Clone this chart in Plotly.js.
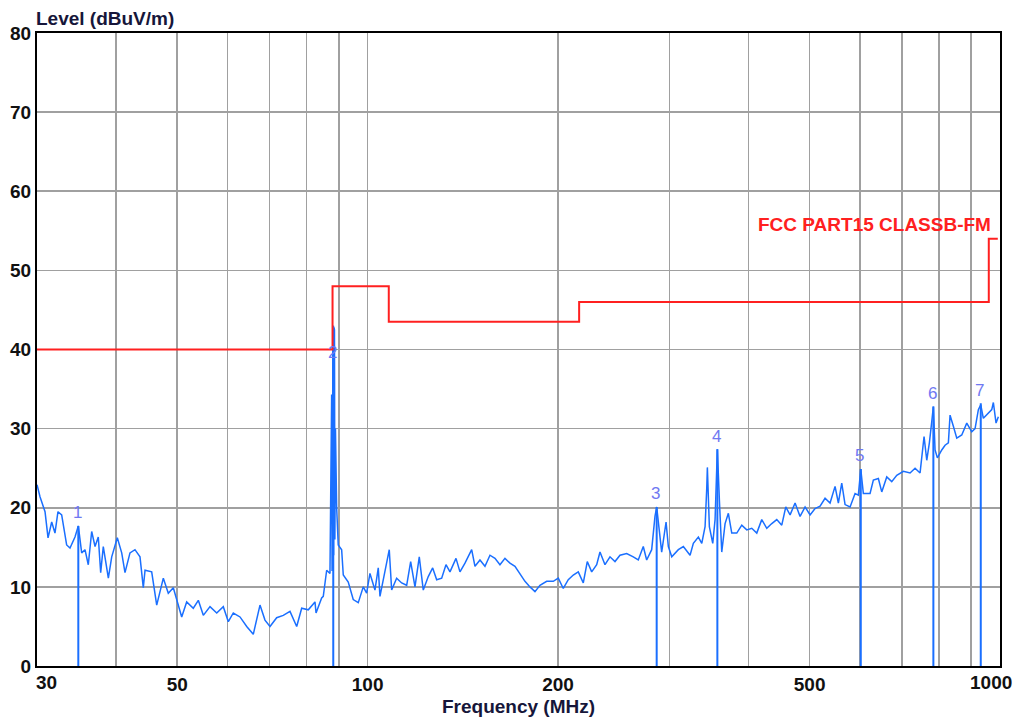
<!DOCTYPE html>
<html>
<head>
<meta charset="utf-8">
<script src="https://cdn.plot.ly/plotly-3.0.1.min.js"></script>
<style>html,body{margin:0;padding:0;background:#fff;}#chart{width:1019px;height:719px;}</style>
</head>
<body>
<div id="chart"></div>
<script>
// Measured spectrum (MHz, dBuV/m)
const freq = [30.0,30.33,30.89,31.23,31.65,32.03,32.38,32.82,33.42,33.83,34.45,34.87,35.30,35.73,36.16,36.61,37.06,37.50,37.83,38.19,38.90,39.38,40.19,40.84,41.33,42.09,42.86,43.65,44.18,44.46,45.55,46.39,47.52,48.39,49.28,50.19,50.81,51.74,53.00,53.98,54.97,56.33,57.72,59.12,60.21,61.31,62.83,64.38,65.94,67.57,68.81,70.08,71.80,73.55,75.37,77.23,78.65,80.56,82.55,82.87,84.58,85.08,86.14,87.18,87.72,87.85,87.98,88.1,88.23,88.35,88.45,88.62,88.75,88.94,89.33,89.85,90.97,91.51,93.18,94.89,96.64,98.41,99.64,100.84,102.70,103.94,104.59,106.51,108.19,109.14,111.14,113.19,115.27,116.96,118.81,120.68,122.45,124.70,126.72,128.58,130.94,133.01,134.96,137.95,139.96,142.54,146.05,147.82,150.53,153.30,156.12,158.99,161.90,164.88,167.91,170.99,174.14,177.34,180.59,183.91,187.29,191.92,196.59,200.20,203.88,207.62,211.44,215.32,219.28,222.50,226.10,230.25,233.04,237.32,241.68,246.12,250.64,256.83,263.07,267.90,272.83,276.23,281.30,284.70,286.47,288.14,291.73,296.42,298.91,302.64,309.99,315.69,323.49,327.39,333.42,337.59,341.67,343.77,344.52,347.04,351.36,354.33,357.30,359.91,363.06,367.47,371.91,376.53,383.46,390.51,397.68,405.0,412.44,420.0,427.74,435.6,443.6,451.74,458.37,465.63,474.18,482.88,491.76,500.79,509.97,519.36,528.9,538.59,548.49,555.12,562.02,568.83,579.3,589.92,597.06,602.31,608.01,623.04,630.57,642.15,650.13,662.07,674.25,686.64,703.35,720.72,733.98,747.48,752.1,758.43,765.93,773.22,780.0,784.56,789.45,796.08,808.92,818.7,828.6,833.73,843.81,854.34,870.03,886.02,902.31,913.2,924.24,932.34,941.19,952.92,970.44,976.11,985.71,994.02];
const level = [22.9,21.4,19.5,16.2,18.2,16.8,19.5,19.1,15.3,14.9,16.3,17.7,14.3,14.7,12.8,17.0,15.1,16.3,11.8,15.1,11.1,13.8,16.2,14.3,11.8,14.3,14.7,13.8,9.9,12.1,11.9,7.7,11.1,9.2,9.9,7.7,6.2,8.1,7.3,8.3,6.4,7.5,6.7,7.5,5.6,6.7,6.2,5.0,4.0,7.7,5.8,5.0,6.1,6.4,6.9,5.0,7.3,7.1,8.1,6.7,8.6,8.8,12.1,11.7,34.3,12.0,13.0,41.5,43.0,14.0,42.8,42.5,16.0,30.0,20.0,15.3,14.7,11.5,10.6,8.4,8.0,10.0,9.2,11.7,9.6,12.4,8.8,12.1,14.7,9.6,11.1,10.5,10.2,13.2,10.0,13.8,9.6,11.3,12.4,10.9,11.1,12.8,11.9,13.6,11.9,13.0,14.7,12.6,13.4,12.6,14.0,13.6,12.8,13.6,13.0,12.6,11.7,10.7,10.0,9.4,10.2,10.7,10.7,11.1,9.8,10.9,11.5,11.9,10.5,13.2,11.9,12.8,14.4,12.8,13.8,13.2,14.0,14.2,13.8,13.4,15.1,13.4,14.7,18.9,20.1,18.4,14.4,18.2,15.1,13.8,14.7,15.1,14.0,15.5,16.3,15.5,17.6,22.5,25.1,17.6,15.5,18.5,27.4,21.0,14.4,18.0,19.3,16.8,16.8,17.8,17.2,17.4,16.8,18.5,17.4,18.0,18.5,17.8,20.1,19.1,20.6,18.9,20.1,19.1,19.9,20.2,21.2,20.6,22.7,20.6,23.1,20.4,20.1,21.8,21.6,24.9,21.8,21.8,23.5,23.7,22.0,23.9,23.3,24.1,24.6,24.4,25.0,24.4,26.5,29.0,26.0,28.2,30.9,32.8,27.3,26.3,27.3,27.9,28.2,31.7,30.3,28.8,29.2,30.7,29.6,30.0,32.4,33.0,31.3,31.7,32.4,33.3,30.7,31.5];

// Limit line: FCC PART15 CLASSB-FM
const limitFreq  = [30, 88, 88, 108, 108, 216, 216, 960, 960, 992];
const limitLevel = [40, 40, 48, 48, 43.5, 43.5, 46, 46, 54, 54];
const limitName = 'FCC PART15 CLASSB-FM';

// Markers
const markerLabel = ['1','2','3','4','5','6','7'];
const markerFreq  = [34.87, 88.23, 286.47, 357.30, 602.31, 784.56, 932.34];
const markerLevel = [17.7, 43.0, 20.1, 27.4, 24.9, 32.8, 33.2];

// Axes
const gridFreq = [30,40,50,60,70,80,90,100,200,300,400,500,600,700,800,900,1000];
const xTickText = ['','','50','','','','','100','200','','','500','','','','',''];
const xEndLabels = ['30','1000'];
const xEndFreq = [30, 1000];
const yTicks = [0,10,20,30,40,50,60,70,80];
const xTitle = 'Frequency (MHz)';
const yTitle = 'Level (dBuV/m)';

const blue = '#1a6fff';
const FONT = 'Liberation Sans, Arial, sans-serif';

const mx = [], my = [];
for (let i = 0; i < markerFreq.length; i++) {
  mx.push(markerFreq[i], markerFreq[i], null);
  my.push(0, markerLevel[i], null);
}

const traces = [
  {x: freq, y: level, type: 'scatter', mode: 'lines', line: {color: blue, width: 1.5}, hoverinfo: 'skip'},
  {x: mx, y: my, type: 'scatter', mode: 'lines', line: {color: blue, width: 2}, hoverinfo: 'skip'},
  {x: limitFreq, y: limitLevel, type: 'scatter', mode: 'lines', line: {color: '#ff2020', width: 2}, hoverinfo: 'skip'}
];

const labelShift = {'2': -27};
const annotations = [];
markerLabel.forEach((t, i) => {
  annotations.push({
    x: Math.log10(markerFreq[i]), y: markerLevel[i], xref: 'x', yref: 'y',
    text: t, showarrow: false, xanchor: 'center', yanchor: 'middle',
    yshift: (labelShift[t] !== undefined ? labelShift[t] : 13), xshift: -1,
    font: {family: FONT, size: 17, color: '#6f78f2'}
  });
});
annotations.push({
  x: 0.9927, y: 0.6967, xref: 'paper', yref: 'paper', text: limitName,
  showarrow: false, xanchor: 'right', yanchor: 'middle',
  font: {family: FONT, size: 19, color: '#ff2020', weight: 'bold'}
});
annotations.push({
  x: 0, y: 1, xref: 'paper', yref: 'paper', text: yTitle, showarrow: false,
  xanchor: 'left', yanchor: 'middle', yshift: 15, xshift: -3,
  font: {family: FONT, size: 19, color: '#16163a', weight: 'bold'}
});
xEndLabels.forEach((t, i) => {
  annotations.push({
    x: Math.log10(xEndFreq[i]), y: 0, xref: 'x', yref: 'paper', text: t, showarrow: false,
    xanchor: i === 0 ? 'left' : 'right', yanchor: 'top', yshift: -4, xshift: i === 0 ? -3 : 14,
    font: {family: FONT, size: 19, color: '#111', weight: 'bold'}
  });
});

const layout = {
  width: 1019, height: 719,
  margin: {l: 37, r: 19, t: 33, b: 53, pad: 0},
  paper_bgcolor: '#fff', plot_bgcolor: '#fff',
  showlegend: false,
  font: {family: FONT, size: 19, color: '#111'},
  xaxis: {
    type: 'log', range: [Math.log10(30), 3],
    tickvals: gridFreq, ticktext: xTickText, tickmode: 'array',
    ticks: '', showgrid: true, gridcolor: '#a0a0a0', gridwidth: 1.6,
    showline: true, linecolor: '#000', linewidth: 2, mirror: true, zeroline: false,
    tickfont: {family: FONT, size: 19, color: '#111', weight: 'bold'},
    title: {text: xTitle, standoff: 6, font: {family: FONT, size: 19, color: '#16163a', weight: 'bold'}},
    fixedrange: true
  },
  yaxis: {
    range: [0, 80], tickvals: yTicks, tickmode: 'array',
    ticks: '', showgrid: true, gridcolor: '#a0a0a0', gridwidth: 1.6,
    showline: true, linecolor: '#000', linewidth: 2, mirror: true, zeroline: false,
    tickfont: {family: FONT, size: 19, color: '#111', weight: 'bold'},
    fixedrange: true
  },
  annotations: annotations
};

Plotly.newPlot('chart', traces, layout, {displayModeBar: false, staticPlot: true});
</script>
</body>
</html>
